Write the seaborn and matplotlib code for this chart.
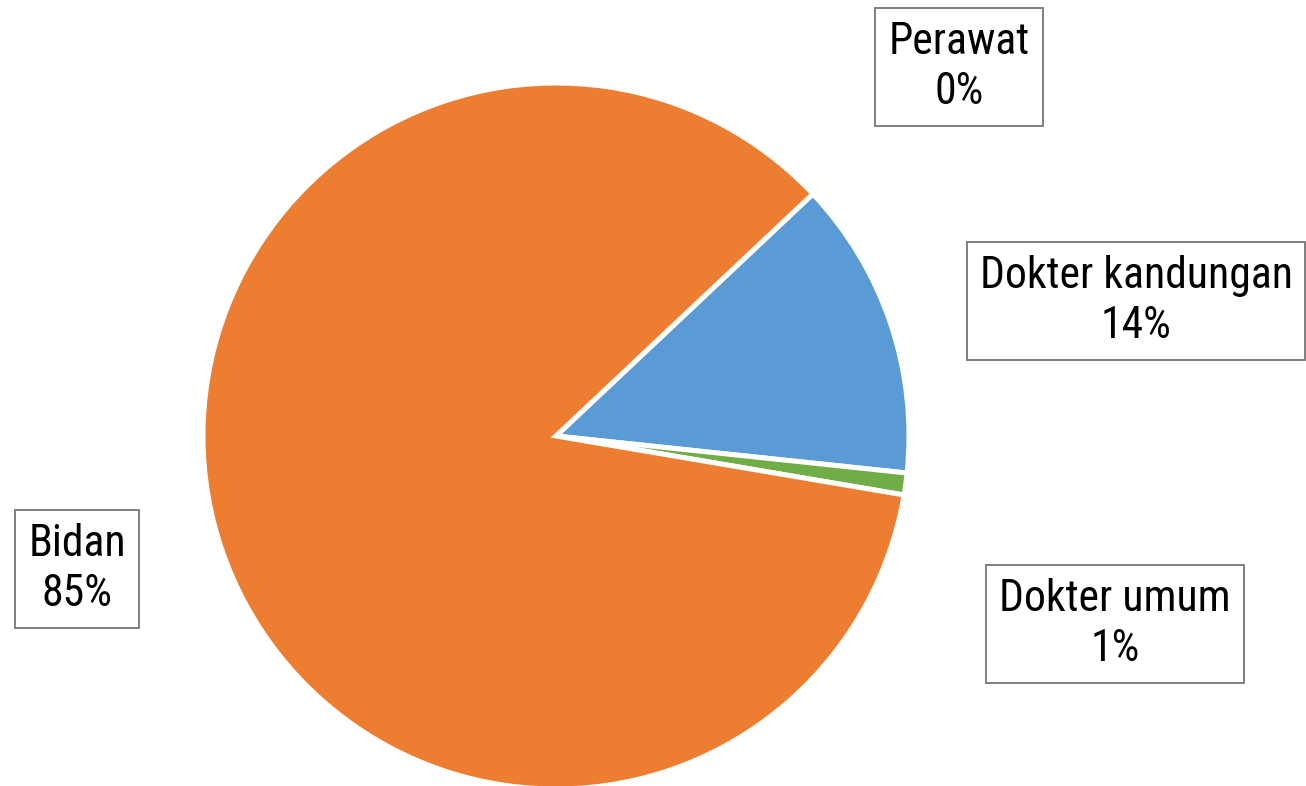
import matplotlib
matplotlib.use("Agg")
import matplotlib.pyplot as plt
from matplotlib import font_manager
import seaborn as sns

# profession of the birth attendant
categories = ['Perawat', 'Dokter kandungan', 'Dokter umum', 'Bidan']
shares = [0.0, 13.7, 1.0, 85.3]
colors = ['#A5A5A5', '#5B9BD5', '#70AD47', '#ED7D31']
label_pos = [(959, 67), (1136, 301), (1115, 624), (77, 569)]  # pixel centres


def pick_font():
    fl = font_manager.fontManager.ttflist
    for want in ['Liberation Sans Narrow', 'Arial Narrow', 'Roboto Condensed']:
        if any(f.name == want for f in fl):
            return want, 'normal'
    for fam in ['Roboto', 'DejaVu Sans', 'Noto Sans', 'Open Sans']:
        if any(f.name == fam and f.stretch in ('condensed', 'semi-condensed') and f.style == 'normal'
               for f in fl):
            return fam, 'condensed'
    return 'Liberation Sans', 'normal'


sns.set_theme(style='white')
family, stretch = pick_font()
plt.rcParams['font.family'] = [family, 'DejaVu Sans']

W, H = 1306, 786
fig = plt.figure(figsize=(W / 100, H / 100), dpi=100)
ax = fig.add_axes([0, 0, 1, 1])

ax.pie(shares, colors=colors, startangle=43.3, counterclock=False,
       center=(556, H - 436), radius=353, frame=True,
       wedgeprops=dict(edgecolor='white', linewidth=3.6))
ax.set_xlim(0, W)
ax.set_ylim(0, H)
ax.set_aspect('equal')
ax.axis('off')

# size the labels so the widest line is about 313 px, lines ~50 px apart, boxes ~118 px tall
fig.canvas.draw()
rend = fig.canvas.get_renderer()
probe = ax.text(0, 0, 'Dokter kandungan', fontsize=30, fontstretch=stretch)
fsize = 30 * 313 / probe.get_window_extent(rend).width
probe.remove()
prop = font_manager.FontProperties(family=[family, 'DejaVu Sans'], stretch=stretch, size=fsize)
_, lp_h, lp_d = rend.get_text_width_height_descent('lp', prop, ismath=False)
gap = 50
lsp = (gap - lp_d) / (lp_h - lp_d)
pad_px = max((118 - lp_h - gap) / 2, 4)
pad = pad_px / (fsize * 100 / 72)

for name, val, (px, py) in zip(categories, shares, label_pos):
    ax.text(px, H - py, f"{name}\n{round(val)}%", ha='center', va='center',
            multialignment='center', fontsize=fsize, fontstretch=stretch,
            color='black', linespacing=lsp,
            bbox=dict(boxstyle=f'square,pad={pad:.3f}', facecolor='white',
                      edgecolor='#7F7F7F', linewidth=1.4))

fig.savefig('out.png', dpi=100, facecolor='white')
